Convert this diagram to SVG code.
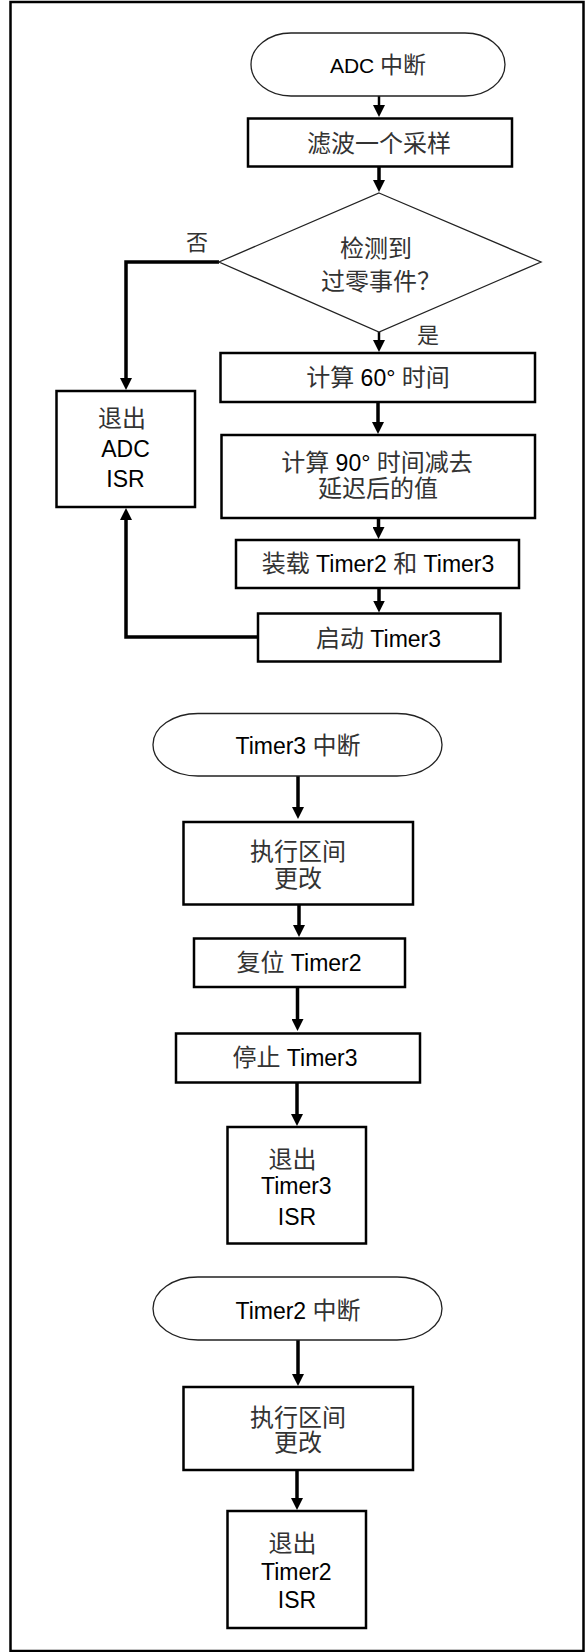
<svg xmlns="http://www.w3.org/2000/svg" width="586" height="1652" viewBox="0 0 586 1652">
<style>
text { font-family: "Liberation Sans", Arial, "Noto Sans CJK SC", sans-serif; font-size: 23px; fill: #000; text-anchor: middle; }
.c { font-family: "Noto Sans CJK SC", sans-serif; font-size: 24px; fill: #333; }
.s { font-size: 21px; }
.sc { font-family: "Noto Sans CJK SC", sans-serif; font-size: 23px; fill: #333; }
.box { fill: #fff; stroke: #000; stroke-width: 2.5; }
.term { fill: #fff; stroke: #222; stroke-width: 1.3; }
.dia { fill: #fff; stroke: #222; stroke-width: 1.3; }
.wire { fill: none; stroke: #000; stroke-width: 3.5; }
.thin { stroke-width: 2.5; }
.frame { fill: none; stroke: #000; stroke-width: 2.5; }
</style>
<defs>
<marker id="ah" viewBox="0 0 12 12" markerWidth="12" markerHeight="12" refX="2" refY="6" orient="auto" markerUnits="userSpaceOnUse">
<path d="M0,0 L12,6 L0,12 z" fill="#000"/>
</marker>
</defs>

<rect class="frame" x="10.5" y="2" width="573" height="1649"/>

<g id="connectors">
<path class="wire thin" d="M379,96 V107" marker-end="url(#ah)"/>
<path class="wire" d="M379,167 V182" marker-end="url(#ah)"/>
<path class="wire thin" d="M379,332 V342" marker-end="url(#ah)"/>
<path class="wire" d="M378,402 V424" marker-end="url(#ah)"/>
<path class="wire" d="M378.5,518 V529" marker-end="url(#ah)"/>
<path class="wire" d="M379,588 V602.5" marker-end="url(#ah)"/>
<path class="wire" d="M219,262 H126 V380" marker-end="url(#ah)"/>
<path class="wire" d="M258,637 H126 V518" marker-end="url(#ah)"/>
<path class="wire" d="M298,776 V809" marker-end="url(#ah)"/>
<path class="wire" d="M299,904.5 V927" marker-end="url(#ah)"/>
<path class="wire" d="M297.5,987 V1021" marker-end="url(#ah)"/>
<path class="wire" d="M297,1082.5 V1116" marker-end="url(#ah)"/>
<path class="wire" d="M298,1340 V1376" marker-end="url(#ah)"/>
<path class="wire" d="M297,1470 V1500" marker-end="url(#ah)"/>
<text x="197" y="250" class="c" style="font-size:22px">否</text>
<text x="428" y="343" class="c" style="font-size:22px">是</text>
</g>

<g id="adc-start">
<rect class="term" x="251" y="33" width="254" height="63" rx="40" ry="31.5"/>
<text x="378" y="72.5" class="s">ADC <tspan class="sc">中断</tspan></text>
</g>

<g id="filter">
<rect class="box" x="248" y="118.5" width="264" height="48"/>
<text x="379" y="152" class="c">滤波一个采样</text>
</g>

<g id="decision">
<polygon class="dia" points="379,193 541,262 379,332 219,262"/>
<text x="376" y="257" class="c">检测到</text>
<text x="381" y="290" class="c">过零事件？</text>
</g>

<g id="calc60">
<rect class="box" x="220.5" y="353" width="314.5" height="49"/>
<text x="378" y="385.5"><tspan class="c">计算</tspan> 60° <tspan class="c">时间</tspan></text>
</g>

<g id="calc90">
<rect class="box" x="221.5" y="435" width="313.5" height="83"/>
<text x="377" y="470.5"><tspan class="c">计算</tspan> 90° <tspan class="c">时间减去</tspan></text>
<text x="378" y="497" class="c">延迟后的值</text>
</g>

<g id="load">
<rect class="box" x="236" y="540" width="283" height="48"/>
<text x="378" y="571.5"><tspan class="c">装载</tspan> Timer2 <tspan class="c">和</tspan> Timer3</text>
</g>

<g id="start-t3">
<rect class="box" x="258" y="613.5" width="242.5" height="48"/>
<text x="378.5" y="646.5"><tspan class="c">启动</tspan> Timer3</text>
</g>

<g id="exit-adc">
<rect class="box" x="56.5" y="391" width="138.5" height="116"/>
<text x="122" y="427" class="c">退出</text>
<text x="125.5" y="456.5">ADC</text>
<text x="125.5" y="487">ISR</text>
</g>

<g id="t3-start">
<rect class="term" x="153" y="713.5" width="289" height="62.5" rx="45" ry="31"/>
<text x="298" y="753.5">Timer3 <tspan class="c">中断</tspan></text>
</g>

<g id="t3-exec">
<rect class="box" x="183.5" y="822" width="229.5" height="82.5"/>
<text x="298" y="860" class="c">执行区间</text>
<text x="298" y="886.5" class="c">更改</text>
</g>

<g id="t3-reset">
<rect class="box" x="194" y="938.5" width="211" height="48.5"/>
<text x="299" y="971"><tspan class="c">复位</tspan> Timer2</text>
</g>

<g id="t3-stop">
<rect class="box" x="176" y="1033.5" width="244" height="49"/>
<text x="295" y="1066"><tspan class="c">停止</tspan> Timer3</text>
</g>

<g id="t3-exit">
<rect class="box" x="227.5" y="1127" width="138.5" height="116.5"/>
<text x="292.6" y="1167.5" class="c">退出</text>
<text x="296.3" y="1194">Timer3</text>
<text x="297" y="1225">ISR</text>
</g>

<g id="t2-start">
<rect class="term" x="153" y="1277" width="289" height="63" rx="45" ry="31.5"/>
<text x="298" y="1318.5">Timer2 <tspan class="c">中断</tspan></text>
</g>

<g id="t2-exec">
<rect class="box" x="183.5" y="1387" width="229.5" height="83"/>
<text x="298" y="1426" class="c">执行区间</text>
<text x="298" y="1451" class="c">更改</text>
</g>

<g id="t2-exit">
<rect class="box" x="227.5" y="1511" width="138.5" height="117"/>
<text x="292.6" y="1552" class="c">退出</text>
<text x="296.3" y="1580">Timer2</text>
<text x="297" y="1608">ISR</text>
</g>
</svg>
